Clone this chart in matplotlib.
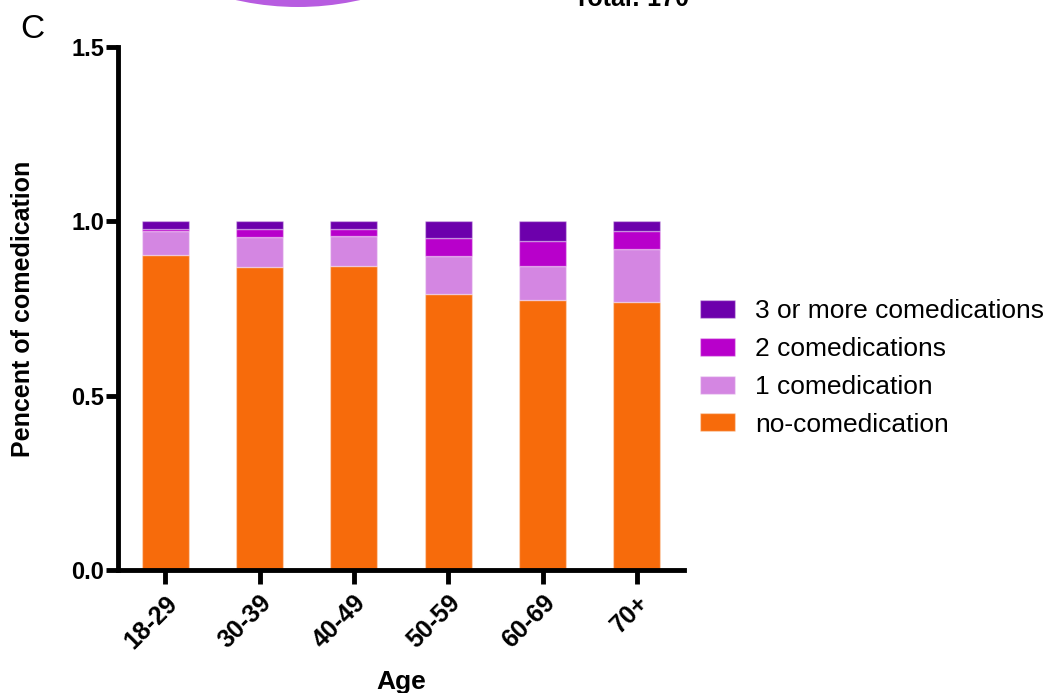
import numpy as np
import matplotlib
matplotlib.use("Agg")
import matplotlib.pyplot as plt
from matplotlib.patches import Patch, Ellipse

ages = ["18-29", "30-39", "40-49", "50-59", "60-69", "70+"]

no_comed = [0.903, 0.870, 0.873, 0.792, 0.773, 0.768]
one_comed = [0.069, 0.085, 0.085, 0.110, 0.098, 0.153]
two_comed = [0.006, 0.024, 0.019, 0.049, 0.074, 0.051]
three_comed = [0.022, 0.021, 0.023, 0.049, 0.055, 0.028]

series = [
    ("no-comedication", no_comed, "#F76B0B"),
    ("1 comedication", one_comed, "#D486E2"),
    ("2 comedications", two_comed, "#B800CB"),
    ("3 or more comedications", three_comed, "#6D00AC")]

plt.rcParams['font.family'] = ['Liberation Sans', 'DejaVu Sans']

W, H = 1051, 693
fig = plt.figure(figsize=(W / 100, H / 100), dpi=100)
ax = fig.add_axes([118 / W, 1 - 570 / H, (684 - 118) / W, (570 - 47) / H])

x = np.arange(len(ages))
bottom = np.zeros(len(ages))
for label, vals, color in series:
    ax.bar(x, vals, bottom=bottom, width=0.5, color=color,
           edgecolor=(1, 1, 1, 0.35), linewidth=1, label=label)
    bottom += np.array(vals)

ax.set_xlim(-0.5, 5.5)
ax.set_ylim(0, 1.5)
ax.set_yticks([0, 0.5, 1.0, 1.5])
ax.set_yticklabels(["0.0", "0.5", "1.0", "1.5"], fontweight='bold', fontsize=17)
ax.set_xticks(x)
ax.set_xticklabels(ages, rotation=45, ha='right', rotation_mode='anchor',
                   fontweight='bold', fontsize=18)

for side in ['top', 'right']:
    ax.spines[side].set_visible(False)
for side in ['left', 'bottom']:
    ax.spines[side].set_linewidth(3.5)
ax.tick_params(axis='y', length=9, width=3.5, pad=1)
ax.tick_params(axis='x', length=10, width=3.5, pad=5)

ax.set_ylabel("Pencent of comedication", fontweight='bold', fontsize=18, labelpad=26)
ax.set_xlabel("Age", fontweight='bold', fontsize=19, labelpad=12)

handles = [Patch(facecolor=c, edgecolor=(1, 1, 1, 0.35), label=l)
           for l, v, c in reversed(series)]
fig.legend(handles=handles, loc='center left', bbox_to_anchor=(689 / W, 1 - 368 / H),
           frameon=False, fontsize=19, handlelength=1.33, handleheight=0.68,
           handletextpad=0.76, labelspacing=0.52, borderaxespad=0)

# remnants of the neighbouring panel above
fig.text(20 / W, 1 - 38 / H, "C", fontsize=24, fontweight='light', va='baseline')
fig.patches.append(Ellipse((298 / W, 1 + 273 / H), 560 / W, 560 / H,
                           facecolor="#B75CE0", edgecolor='none',
                           transform=fig.transFigure, figure=fig))
fig.text(574 / W, 1 - 6 / H, "Total: 170", fontsize=18, fontweight='bold', va='baseline')

fig.savefig("out.png", dpi=100)
